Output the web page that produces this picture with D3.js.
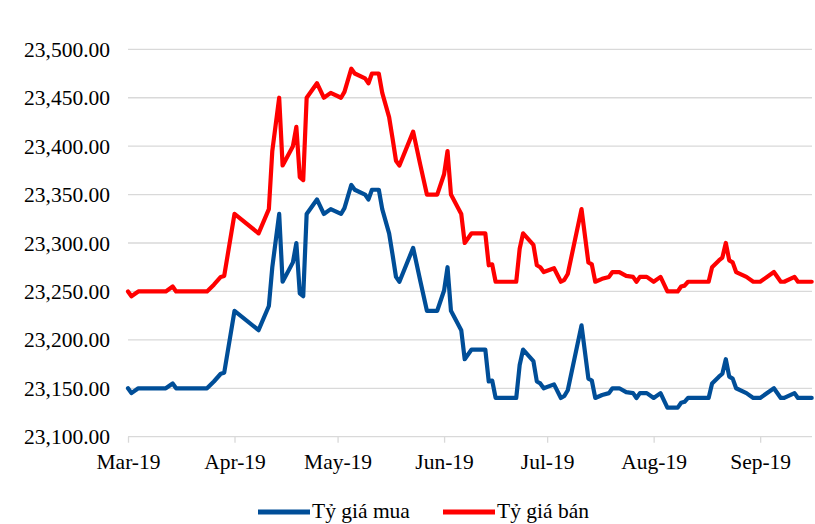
<!DOCTYPE html>
<html><head><meta charset="utf-8">
<script src="https://cdn.jsdelivr.net/npm/d3@7"></script>
<style>
body{margin:0;background:#fff;}
text{font-family:"Liberation Serif","Times New Roman",serif;fill:#000;}
</style>
</head><body>
<svg id="c" width="815" height="524"></svg>
<script>
const dates = ["2019-03-01","2019-03-02","2019-03-04","2019-03-12","2019-03-14","2019-03-15","2019-03-24","2019-03-26","2019-03-28","2019-03-29",
"2019-04-01","2019-04-08","2019-04-11","2019-04-12","2019-04-14","2019-04-15","2019-04-18","2019-04-19","2019-04-20","2019-04-21",
"2019-04-22","2019-04-25","2019-04-27","2019-04-29","2019-05-02","2019-05-03","2019-05-05","2019-05-06","2019-05-09","2019-05-10",
"2019-05-11","2019-05-13","2019-05-14","2019-05-16","2019-05-17","2019-05-18","2019-05-19","2019-05-23","2019-05-25","2019-05-27",
"2019-05-30","2019-06-01","2019-06-02","2019-06-03","2019-06-06","2019-06-07","2019-06-09","2019-06-13","2019-06-14","2019-06-15",
"2019-06-16","2019-06-22","2019-06-23","2019-06-24","2019-06-27","2019-06-28","2019-06-29","2019-06-30","2019-07-03","2019-07-05",
"2019-07-06","2019-07-07","2019-07-11","2019-07-13","2019-07-14","2019-07-15","2019-07-17","2019-07-19","2019-07-20","2019-07-22",
"2019-07-24","2019-07-26","2019-07-27","2019-07-28","2019-07-30","2019-08-01","2019-08-03","2019-08-05","2019-08-08","2019-08-09",
"2019-08-10","2019-08-11","2019-08-17","2019-08-18","2019-08-20","2019-08-21","2019-08-22","2019-08-23","2019-08-24","2019-08-25",
"2019-08-28","2019-08-30","2019-09-01","2019-09-05","2019-09-07","2019-09-08","2019-09-11","2019-09-12","2019-09-16"];

const buyRates = [23150,23145,23150,23150,23155,23150,23150,23157,23165,23166,
23230,23210,23235,23275,23330,23260,23280,23300,23248,23245,
23330,23345,23330,23335,23330,23336,23360,23355,23350,23345,
23355,23355,23335,23310,23288,23265,23260,23295,23262,23230,
23230,23251,23275,23230,23210,23180,23190,23190,23157,23158,
23140,23140,23174,23190,23178,23157,23155,23150,23154,23140,
23142,23148,23215,23160,23158,23140,23143,23145,23150,23150,
23146,23145,23140,23145,23145,23140,23145,23130,23130,23135,
23136,23140,23140,23155,23162,23165,23180,23162,23160,23150,
23145,23140,23140,23150,23140,23140,23145,23140,23140];

const sellRates = [23250,23245,23250,23250,23255,23250,23250,23257,23265,23266,
23330,23310,23335,23395,23450,23380,23400,23420,23368,23365,
23450,23465,23450,23455,23450,23456,23480,23475,23470,23465,
23475,23475,23455,23430,23408,23385,23380,23415,23382,23350,
23350,23371,23395,23350,23330,23300,23310,23310,23277,23278,
23260,23260,23294,23310,23298,23277,23275,23270,23274,23260,
23262,23268,23335,23280,23278,23260,23263,23265,23270,23270,
23266,23265,23260,23265,23265,23260,23265,23250,23250,23255,
23256,23260,23260,23275,23282,23285,23300,23282,23280,23270,
23265,23260,23260,23270,23260,23260,23265,23260,23260];

const yTicks = [23100,23150,23200,23250,23300,23350,23400,23450,23500];
const monthTicks = ["2019-03-01","2019-04-01","2019-05-01","2019-06-01","2019-07-01","2019-08-01","2019-09-01"];
const seriesNames = ["Tỷ giá mua","Tỷ giá bán"];
const seriesColors = ["#004E98","#FF0000"];

const parse = d3.utcParse("%Y-%m-%d");
const svg = d3.select("#c");
const x = d3.scaleUtc().domain([parse("2019-03-01"), parse("2019-09-16")]).range([128, 811.7]);
const y = d3.scaleLinear().domain([23100, 23500]).range([436.7, 49.3]);
const FS = 21.5;

// gridlines
svg.append("g").selectAll("line").data(yTicks.slice(1)).join("line")
  .attr("x1", 128).attr("x2", 812)
  .attr("y1", d => y(d)).attr("y2", d => y(d))
  .attr("stroke", "#d9d9d9").attr("stroke-width", 1.3);

// y labels
const fmt = d3.format(",.2f");
svg.append("g").selectAll("text").data(yTicks).join("text")
  .attr("x", 110).attr("y", d => y(d))
  .attr("dy", "0.35em").attr("text-anchor", "end")
  .attr("font-size", FS)
  .text(d => fmt(d));

// x axis
const xAxis = d3.axisBottom(x)
  .tickValues(monthTicks.map(parse))
  .tickFormat(d3.utcFormat("%b-%y"))
  .tickSize(6).tickPadding(11);
const gx = svg.append("g").attr("transform", "translate(0,436.7)").call(xAxis);
gx.select(".domain").attr("stroke", "#d9d9d9").attr("stroke-width", 1.3).attr("d", "M128,0H812");
gx.selectAll(".tick line").attr("stroke", "#d9d9d9").attr("stroke-width", 1.3);
gx.selectAll(".tick text").attr("font-size", FS).attr("font-family", "Liberation Serif").attr("fill", "#000");

// lines
const line = d3.line().x((d, i) => x(parse(dates[i]))).y(d => y(d));
[buyRates, sellRates].forEach((vals, k) => {
  svg.append("path").datum(vals)
    .attr("d", line)
    .attr("fill", "none")
    .attr("stroke", seriesColors[k])
    .attr("stroke-width", 4.2)
    .attr("stroke-linejoin", "round")
    .attr("stroke-linecap", "round");
});

// legend
const legendX = [258, 443];
seriesNames.forEach((n, k) => {
  const g = svg.append("g").attr("transform", `translate(${legendX[k]},512)`);
  g.append("line").attr("x1", 0).attr("x2", 52).attr("y1", 0).attr("y2", 0)
    .attr("stroke", seriesColors[k]).attr("stroke-width", 5);
  g.append("text").attr("x", 54).attr("y", 0).attr("dy", "0.28em")
    .attr("font-size", FS).text(n);
});
</script>
</body></html>
